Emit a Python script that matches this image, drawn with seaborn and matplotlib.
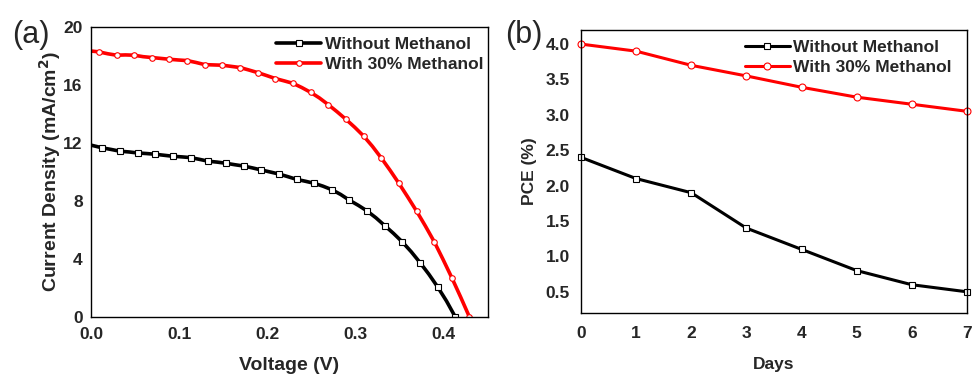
import numpy as np
import pandas as pd
import matplotlib
matplotlib.use("Agg")
import matplotlib.pyplot as plt
from matplotlib.ticker import MultipleLocator
import seaborn as sns

# (a) J-V curves
volt_without = [0.0, 0.013, 0.023, 0.033, 0.043, 0.053, 0.063, 0.073, 0.083, 0.093,
                0.103, 0.113, 0.123, 0.133, 0.143, 0.153, 0.163, 0.173, 0.183, 0.193,
                0.203, 0.213, 0.223, 0.233, 0.243, 0.253, 0.263, 0.273, 0.283, 0.293,
                0.303, 0.313, 0.323, 0.333, 0.343, 0.353, 0.363, 0.373, 0.383, 0.393,
                0.403, 0.413]
jsc_without = [11.85, 11.66, 11.55, 11.43, 11.38, 11.31, 11.27, 11.22, 11.15, 11.08,
               11.04, 10.99, 10.87, 10.74, 10.68, 10.60, 10.50, 10.41, 10.28, 10.14,
               10.00, 9.86, 9.68, 9.49, 9.36, 9.22, 9.02, 8.78, 8.45, 8.05,
               7.70, 7.31, 6.84, 6.30, 5.76, 5.17, 4.50, 3.75, 2.95, 2.07,
               1.10, 0.0]
volt_with = [0.0, 0.009, 0.019, 0.029, 0.039, 0.049, 0.059, 0.069, 0.079, 0.089,
             0.099, 0.109, 0.119, 0.129, 0.139, 0.149, 0.159, 0.169, 0.179, 0.189,
             0.199, 0.209, 0.219, 0.229, 0.239, 0.249, 0.259, 0.269, 0.279, 0.289,
             0.299, 0.309, 0.319, 0.329, 0.339, 0.349, 0.359, 0.369, 0.379, 0.389,
             0.399, 0.409, 0.419, 0.429]
jsc_with = [18.34, 18.28, 18.15, 18.05, 18.07, 18.05, 17.95, 17.89, 17.83, 17.77,
            17.72, 17.68, 17.55, 17.40, 17.38, 17.36, 17.28, 17.20, 17.03, 16.85,
            16.65, 16.44, 16.28, 16.11, 15.82, 15.49, 15.10, 14.64, 14.15, 13.63,
            13.08, 12.48, 11.77, 10.97, 10.12, 9.22, 8.28, 7.31, 6.28, 5.20,
            3.98, 2.71, 1.38, 0.0]

# (b) PCE vs days
days = [0, 1, 2, 3, 4, 5, 6, 7]
pce_without = [2.4, 2.1, 1.9, 1.4, 1.1, 0.8, 0.6, 0.5]
pce_with = [4.0, 3.9, 3.7, 3.55, 3.39, 3.25, 3.15, 3.05]

labels = ["Without Methanol", "With 30% Methanol"]

sns.set_style("white")
plt.rcParams['font.family'] = ['Liberation Sans', 'DejaVu Sans']
plt.rcParams['font.weight'] = 'bold'
plt.rcParams['axes.labelweight'] = 'bold'

fig = plt.figure(figsize=(9.73, 3.74), dpi=100)
ax1 = fig.add_axes([0.0935, 0.1524, 0.408, 0.7756])
ax2 = fig.add_axes([0.597, 0.163, 0.3968, 0.757])

# panel a
sns.lineplot(x=volt_without, y=jsc_without, ax=ax1, color='black', lw=2.6,
             marker='s', markersize=4, markerfacecolor='white', markeredgecolor='black',
             markeredgewidth=0.8, markevery=slice(1, None, 2), label=labels[0])
sns.lineplot(x=volt_with, y=jsc_with, ax=ax1, color='red', lw=2.6,
             marker='o', markersize=4, markerfacecolor='white', markeredgecolor='red',
             markeredgewidth=0.8, markevery=slice(1, None, 2), label=labels[1])
ax1.set_xlim(0, 0.45)
ax1.set_ylim(0, 20)
ax1.xaxis.set_major_locator(MultipleLocator(0.1))
ax1.xaxis.set_minor_locator(MultipleLocator(0.05))
ax1.yaxis.set_major_locator(MultipleLocator(4))
ax1.yaxis.set_minor_locator(MultipleLocator(2))
ax1.xaxis.set_major_formatter(plt.FormatStrFormatter('%.1f'))
ax1.tick_params(which='both', direction='in', labelsize=12.5, width=0.8)
ax1.tick_params(which='major', length=4)
ax1.tick_params(which='minor', length=2.5)
ax1.tick_params(axis='x', pad=7)
ax1.tick_params(axis='y', pad=6)
ax1.set_xlabel('Voltage (V)', fontsize=14, labelpad=11)
ax1.set_ylabel('Current Density (mA/cm$\\mathbf{^2}$)', fontsize=14, labelpad=0)
ax1.legend(loc='upper right', frameon=False, fontsize=12.5, handlelength=2.6,
           handletextpad=0.2, borderaxespad=0.15, labelspacing=0.3,
           bbox_to_anchor=(1.012, 1.0))

# panel b
sns.lineplot(x=days, y=pce_without, ax=ax2, color='black', lw=2.2,
             marker='s', markersize=5, markerfacecolor='white', markeredgecolor='black',
             markeredgewidth=0.8, label=labels[0], clip_on=False)
sns.lineplot(x=days, y=pce_with, ax=ax2, color='red', lw=2.2,
             marker='o', markersize=5, markerfacecolor='white', markeredgecolor='red',
             markeredgewidth=0.8, label=labels[1], clip_on=False)
ax2.set_xlim(0, 7)
ax2.set_ylim(0.2, 4.2)
ax2.xaxis.set_major_locator(MultipleLocator(1))
ax2.xaxis.set_minor_locator(MultipleLocator(0.5))
ax2.yaxis.set_major_locator(MultipleLocator(0.5))
ax2.yaxis.set_minor_locator(MultipleLocator(0.25))
ax2.yaxis.set_major_formatter(plt.FormatStrFormatter('%.1f'))
ax2.tick_params(axis='x', which='both', direction='in', pad=9)
ax2.tick_params(axis='y', which='both', direction='out', pad=4)
ax2.tick_params(which='both', labelsize=12.5, width=0.8)
ax2.tick_params(which='major', length=4)
ax2.tick_params(which='minor', length=2.5)
ax2.set_xlabel('Days', fontsize=12.5, labelpad=12)
ax2.set_ylabel('PCE (%)', fontsize=12.5, labelpad=6)
ax2.legend(loc='upper right', frameon=False, fontsize=12.5, handlelength=2.6,
           handletextpad=0.2, borderaxespad=0.15, labelspacing=0.3,
           bbox_to_anchor=(0.985, 1.0))

for ax in (ax1, ax2):
    for sp in ax.spines.values():
        sp.set_color('black')
        sp.set_linewidth(1.0)

fig.text(0.012, 0.885, '(a)', fontsize=22, fontweight='normal')
fig.text(0.519, 0.885, '(b)', fontsize=22, fontweight='normal')

fig.savefig('out.png', dpi=100)
